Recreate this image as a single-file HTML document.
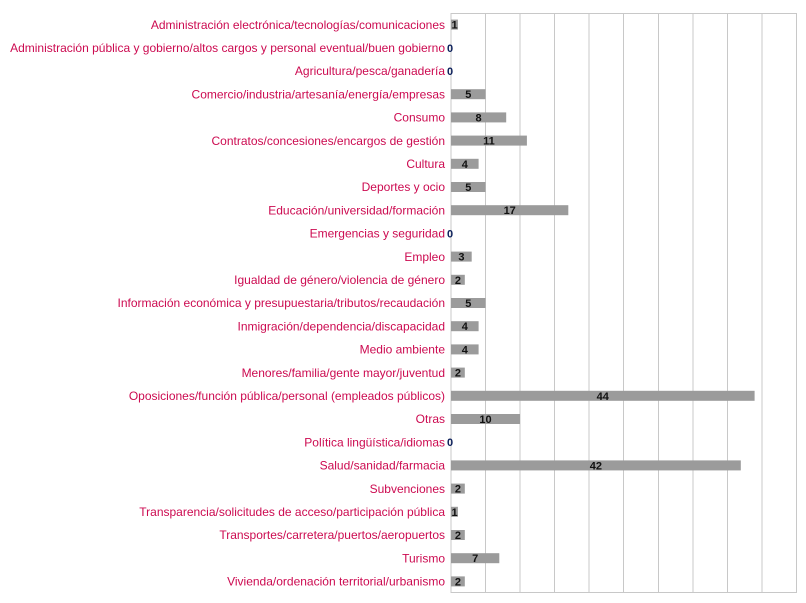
<!DOCTYPE html>
<html><head><meta charset="utf-8"><style>body{margin:0;background:#fff}svg{display:block}
.l{font-size:12px;fill:#cc0a50;text-anchor:end}
.v{font-size:11px;font-weight:bold;fill:#111;text-anchor:middle}
.z{font-size:11px;font-weight:bold;fill:#0a1e5a}
</style></head><body>
<svg width="806" height="603" xmlns="http://www.w3.org/2000/svg" font-family="Liberation Sans, DejaVu Sans, sans-serif">
<g stroke="#c8c8c8" stroke-width="1">
<line x1="451" y1="13" x2="451" y2="593"/><line x1="485.5" y1="13" x2="485.5" y2="593"/><line x1="520" y1="13" x2="520" y2="593"/><line x1="554.5" y1="13" x2="554.5" y2="593"/><line x1="589" y1="13" x2="589" y2="593"/><line x1="623.5" y1="13" x2="623.5" y2="593"/><line x1="658.5" y1="13" x2="658.5" y2="593"/><line x1="693" y1="13" x2="693" y2="593"/><line x1="727.5" y1="13" x2="727.5" y2="593"/><line x1="762" y1="13" x2="762" y2="593"/><line x1="796.5" y1="13" x2="796.5" y2="593"/>
<line x1="451" y1="13.5" x2="797" y2="13.5"/><line x1="451" y1="592.5" x2="797" y2="592.5"/>
</g>
<g fill="#9b9b9b">
<rect x="451" y="19.6" width="6.9" height="10"/>
<rect x="451" y="89.2" width="34.5" height="10"/>
<rect x="451" y="112.4" width="55.2" height="10"/>
<rect x="451" y="135.6" width="75.9" height="10"/>
<rect x="451" y="158.8" width="27.6" height="10"/>
<rect x="451" y="182" width="34.5" height="10"/>
<rect x="451" y="205.2" width="117.3" height="10"/>
<rect x="451" y="251.6" width="20.7" height="10"/>
<rect x="451" y="274.8" width="13.8" height="10"/>
<rect x="451" y="298" width="34.5" height="10"/>
<rect x="451" y="321.2" width="27.6" height="10"/>
<rect x="451" y="344.4" width="27.6" height="10"/>
<rect x="451" y="367.6" width="13.8" height="10"/>
<rect x="451" y="390.8" width="303.6" height="10"/>
<rect x="451" y="414" width="69" height="10"/>
<rect x="451" y="460.4" width="289.8" height="10"/>
<rect x="451" y="483.6" width="13.8" height="10"/>
<rect x="451" y="506.8" width="6.9" height="10"/>
<rect x="451" y="530" width="13.8" height="10"/>
<rect x="451" y="553.2" width="48.3" height="10"/>
<rect x="451" y="576.4" width="13.8" height="10"/>
</g>
<text class="l" x="445" y="28.8">Administración electrónica/tecnologías/comunicaciones</text>
<text class="l" x="445" y="52">Administración pública y gobierno/altos cargos y personal eventual/buen gobierno</text>
<text class="l" x="445" y="75.2">Agricultura/pesca/ganadería</text>
<text class="l" x="445" y="98.4">Comercio/industria/artesanía/energía/empresas</text>
<text class="l" x="445" y="121.6">Consumo</text>
<text class="l" x="445" y="144.8">Contratos/concesiones/encargos de gestión</text>
<text class="l" x="445" y="168">Cultura</text>
<text class="l" x="445" y="191.2">Deportes y ocio</text>
<text class="l" x="445" y="214.4">Educación/universidad/formación</text>
<text class="l" x="445" y="237.6">Emergencias y seguridad</text>
<text class="l" x="445" y="260.8">Empleo</text>
<text class="l" x="445" y="284">Igualdad de género/violencia de género</text>
<text class="l" x="445" y="307.2">Información económica y presupuestaria/tributos/recaudación</text>
<text class="l" x="445" y="330.4">Inmigración/dependencia/discapacidad</text>
<text class="l" x="445" y="353.6">Medio ambiente</text>
<text class="l" x="445" y="376.8">Menores/familia/gente mayor/juventud</text>
<text class="l" x="445" y="400">Oposiciones/función pública/personal (empleados públicos)</text>
<text class="l" x="445" y="423.2">Otras</text>
<text class="l" x="445" y="446.4">Política lingüística/idiomas</text>
<text class="l" x="445" y="469.6">Salud/sanidad/farmacia</text>
<text class="l" x="445" y="492.8">Subvenciones</text>
<text class="l" x="445" y="516">Transparencia/solicitudes de acceso/participación pública</text>
<text class="l" x="445" y="539.2">Transportes/carretera/puertos/aeropuertos</text>
<text class="l" x="445" y="562.4">Turismo</text>
<text class="l" x="445" y="585.6">Vivienda/ordenación territorial/urbanismo</text>
<text class="v" x="454.5" y="28.6">1</text>
<text class="z" x="447" y="51.8">0</text>
<text class="z" x="447" y="75">0</text>
<text class="v" x="468.3" y="98.2">5</text>
<text class="v" x="478.6" y="121.4">8</text>
<text class="v" x="489" y="144.6">11</text>
<text class="v" x="464.8" y="167.8">4</text>
<text class="v" x="468.3" y="191">5</text>
<text class="v" x="509.7" y="214.2">17</text>
<text class="z" x="447" y="237.4">0</text>
<text class="v" x="461.4" y="260.6">3</text>
<text class="v" x="457.9" y="283.8">2</text>
<text class="v" x="468.3" y="307">5</text>
<text class="v" x="464.8" y="330.2">4</text>
<text class="v" x="464.8" y="353.4">4</text>
<text class="v" x="457.9" y="376.6">2</text>
<text class="v" x="602.8" y="399.8">44</text>
<text class="v" x="485.5" y="423">10</text>
<text class="z" x="447" y="446.2">0</text>
<text class="v" x="595.9" y="469.4">42</text>
<text class="v" x="457.9" y="492.6">2</text>
<text class="v" x="454.5" y="515.8">1</text>
<text class="v" x="457.9" y="539">2</text>
<text class="v" x="475.2" y="562.2">7</text>
<text class="v" x="457.9" y="585.4">2</text>
</svg>
</body></html>
